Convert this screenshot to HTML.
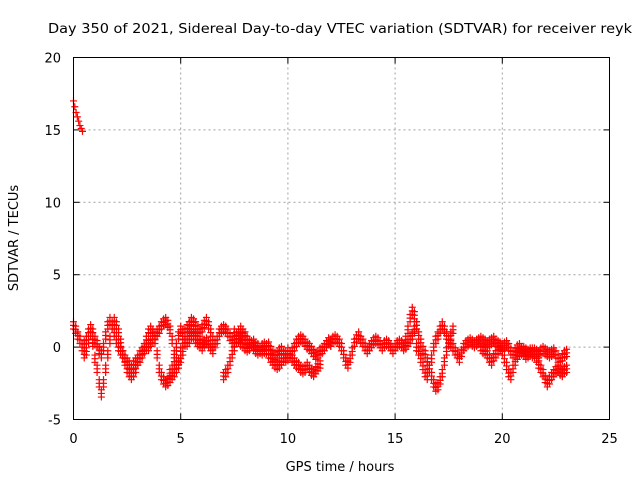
<!DOCTYPE html>
<html><head><meta charset="utf-8"><style>
body{margin:0;background:#fff}
svg{display:block;font-family:"DejaVu Sans","Liberation Sans",sans-serif}
</style></head><body>
<svg id="chart" width="640" height="480" xmlns="http://www.w3.org/2000/svg">
<rect width="640" height="480" fill="#fff"/>
<text x="340" y="33" font-size="13" text-anchor="middle" textLength="584" lengthAdjust="spacingAndGlyphs">Day 350 of 2021, Sidereal Day-to-day VTEC variation (SDTVAR) for receiver reyk</text>
<text x="340" y="471" font-size="13" text-anchor="middle">GPS time / hours</text>
<text transform="translate(18,238) rotate(-90)" font-size="13" text-anchor="middle">SDTVAR / TECUs</text>
<g id="grid"></g>
<g id="ticks"></g>
<g id="marks"></g>
<rect x="73.5" y="57.5" width="536" height="362" fill="none" stroke="#000" stroke-width="1"/>
</svg>
<script>
const xTicks=[0,5,10,15,20,25];
const yTicks=[-5,0,5,10,15,20];
// tracks: start hour, step 0.1h, values in TECU
const trackStarts=[0,0.5,3.0,3.5,4.5,7.0,7.5,12.0,15.5,16.0,19.0];
const t0=[17,16.6,16.2,15.9,15.6,15.3,15.1,14.9];
const t1=[1.5,1.2,0.8,0.5,0,-0.5,-0.3,0.5,1.0,0.3,-0.8,-1.5,-2.5,-3.2,-2.5,-1.5,-0.5,0.5,1.5,1.8,1.5,1.0,0.3,-0.5,-1.0,-1.5,-1.8,-2.0,-1.8,-1.5,-1.0];
const t2=[0.2,0.5,1.0,1.3,1.0,0.5,0.2,-0.2,-0.5,0,0.8,1.5,1.8,1.5,1.0,0.5,0,-0.3,-0.5,-0.8,-1.0,-1.2,-1.5,-1.2,-1.0,-0.8,-0.5,-0.3,-0.2,0,0.2];
const t3=[-1,-0.8,-0.5,0,0.5,1.0,1.2,1.0,0.5,-0.5,-1.5,-2.0,-2.3,-2.5,-2.4,-2.2,-2.0,-1.8,-1.5,-1.0,-0.3,0.5,1.0,1.3,1.5,1.2,0.8,0.5,0.3,0.2,0];
const t4=[0,0.3,0.5,0.8,1.0,1.2,1.5,1.7,1.8,1.6,1.2,0.5,-0.5,-1.0,-1.2,-0.8,-0.3,0.3,1.0,1.5,1.8,1.7,1.5,1.2,1.0,1.3,1.6,1.8,1.5,1.0,0.5,0.2,0.5,1.0,1.2,1.3,1.2,1.0,0.7,0.5,0.3,0.5,0.6,0.8,0.7,0.5];
const t5=[-1.8,-1.5,-1.0,0,0.8,1.2,1.0,0.5,0.3,0.5,0.8,1.0,0.8,0.5,0.3,0.2,0.3,0.4,0.2,0,-0.2];
const t6=[-2.0,-1.8,-1.5,-1.0,-0.5,0,0.5,1.0,1.2,1.0,0.8,0.5,0.3,0.2,0,-0.2,-0.3,-0.2,0,0.1,-0.2,-0.5,-0.8,-1.0,-1.2,-1.3,-1.2,-1.0,-0.8,-0.5,-0.3,-0.5,-0.8,-1.0,-1.2,-1.3,-1.5,-1.6,-1.5,-1.3,-1.5,-1.7,-1.8,-1.6,-1.4,-1.2];
const t7=[1.0,0.8,0.5,0.3,0.2,0,-0.1,0,0.2,0.3,0.1,0,-0.2,-0.3,-0.2,0,0.1,-0.2,-0.5,-0.6,-0.5,-0.3,-0.2,-0.5,-0.8,-0.7,-0.5,-0.3,0,0.3,0.5,0.6,0.5,0.3,0.1,0,-0.2,-0.4,-0.6,-0.5,-0.3,-0.2,0,0.2,0.4,0.3];
const t8=[0.3,0.5,0.6,0.5,0.3,0,-0.5,-1.0,-1.2,-0.8,-0.3,0.3,0.6,0.8,0.5,0.3,0,-0.2,0,0.2,0.4,0.5,0.4,0.2,0,0.2,0.3,0.2,0,-0.2,0,0.2,0.3,0.2,0,0.1,0.3,0.5,0.8,1.2,1.5];
const t9=[0.5,1.2,2.0,2.5,2.2,1.5,0.8,0.3,-0.2,-0.5,-1.0,-1.5,-2.0,-2.5,-2.8,-2.7,-2.3,-1.8,-1.0,-0.3,0.3,0.8,1.2];
const t10=[0,-0.3,-0.8,-1.3,-1.8,-2.0,-1.5,-0.8,0,0.5,0.8,1.2,1.5,1.2,0.8,0.5,0.2,0,-0.3,-0.5,-0.8,-0.4,0,0.2,0.3,0.4,0.3,0.2,0.3,0.4,0.5,0.4,0.3,0.2,0.3,0.4,0.5,0.3,0.2,0.1,0,0.1,0.2,0,-0.3,-0.5,-0.3,-0.1,0,-0.2,-0.4,-0.6,-0.4,-0.3,-0.5,-0.3,-0.4,-0.5,-0.3,-0.2,-0.3,-0.4,-0.5,-0.4,-0.3,-0.5,-0.8,-1.0,-0.7,-0.5,-0.4];
const t11=[0,-0.2,-0.3,-0.5,-0.8,-1.0,-0.7,-0.5,-0.2,0,-0.3,-0.8,-1.3,-1.8,-2.0,-1.5,-1.0,-0.6,-0.4,-0.3,-0.2,-0.3,-0.5,-0.4,-0.3,-0.5,-0.8,-1.2,-1.5,-1.8,-2.2,-2.5,-2.3,-2.0,-1.8,-1.6,-1.5,-1.7,-1.8,-1.6,-1.5];
const tracks=[t1,t2,t3,t4,t5,t6,t7,t8,t9,t10,t11];

const NS="http://www.w3.org/2000/svg";
const X0=73.5,X1=609.5,Y0=419.5,Y1=57.5;
const sx=v=>X0+(v-0)/(25-0)*(X1-X0);
const sy=v=>Y0-(v+5)/(25)*(Y0-Y1);
const grid=document.getElementById('grid'),ticks=document.getElementById('ticks'),marks=document.getElementById('marks');
function mk(tag,attrs,parent){const e=document.createElementNS(NS,tag);for(const k in attrs)e.setAttribute(k,attrs[k]);parent.appendChild(e);return e;}
xTicks.forEach(v=>{
  const x=sx(v);
  if(v>0&&v<25){const g=mk('line',{x1:x,x2:x,y1:Y0,y2:Y1,stroke:'#a0a0a0','stroke-dasharray':'2,3'},grid);
  
  }
  mk('line',{x1:x,x2:x,y1:Y0,y2:Y0-6,stroke:'#000'},ticks);
  mk('line',{x1:x,x2:x,y1:Y1,y2:Y1+6,stroke:'#000'},ticks);
  const t=mk('text',{x:x,y:443,'font-size':13,'text-anchor':'middle'},ticks);t.textContent=v;
  
  
});
yTicks.forEach(v=>{
  const y=sy(v);
  if(v>-5&&v<20){const g=mk('line',{x1:X0,x2:X1,y1:y,y2:y,stroke:'#a0a0a0','stroke-dasharray':'2,3'},grid);
  
  }
  mk('line',{x1:X0,x2:X0+6,y1:y,y2:y,stroke:'#000'},ticks);
  mk('line',{x1:X1,x2:X1-6,y1:y,y2:y,stroke:'#000'},ticks);
  const t=mk('text',{x:61,y:y+5,'font-size':13,'text-anchor':'end'},ticks);t.textContent=v;
  
  
});
function plus(t,v){
  const x=sx(t),y=sy(v);
  const p=mk('path',{d:`M${x-3.5},${y}H${x+3.5}M${x},${y-3.5}V${y+3.5}`,stroke:'#ff0000','stroke-width':1.2,fill:'none'},marks);
  
  
}
t0.forEach((v,i)=>plus(i*0.06,v));
tracks.forEach((arr,k)=>{
  for(let i=0;i<arr.length;i++){
    const t=trackStarts[k]+i*0.1;
    plus(t,arr[i]);
    plus(t,arr[i]+0.25);
    plus(t,arr[i]-0.25);
  }
});
</script>
</body></html>
